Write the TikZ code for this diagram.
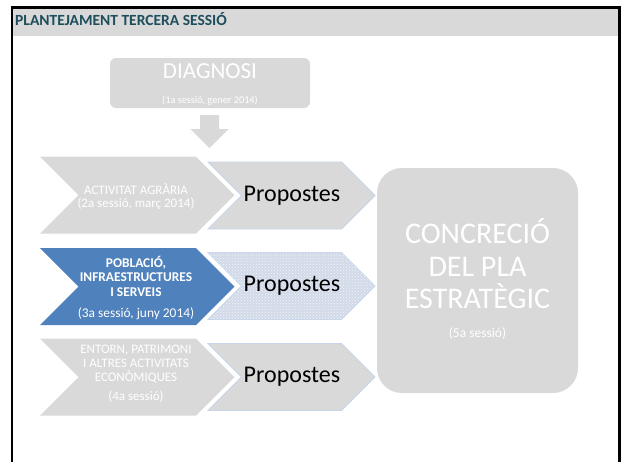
\documentclass[tikz,border=0pt]{standalone}
\usepackage{fontspec}
\setmainfont{Carlito}
\usepackage{xcolor}
\usetikzlibrary{patterns}

\definecolor{slidegray}{HTML}{D9D9D9}
\definecolor{titleteal}{HTML}{1D4E5C}
\definecolor{accblue}{HTML}{4F81BD}
\definecolor{edgeblue}{HTML}{C6D5EA}
\definecolor{dotblue}{HTML}{D2DAE9}

\begin{document}
\begin{tikzpicture}[x=1pt, y=-1pt,
  sbox/.style={fill=slidegray, text=white, align=center, inner sep=0pt},
  chev/.style={fill=slidegray},
  chevsel/.style={fill=accblue},
  prop/.style={fill=slidegray, draw=edgeblue, line width=0.8pt},
  propsel/.style={fill=dotblue, draw=edgeblue, line width=0.8pt},
  chevtext/.style={text=white, align=center, inner sep=0pt,
                   font=\fontsize{13}{12.8}\selectfont},
  proptext/.style={text=black, inner sep=0pt,
                   font=\fontsize{24}{24}\selectfont},
]
\useasboundingbox (0,0) rectangle (621,461);

%% Slide frame and title bar
\fill[slidegray] (12,8) rectangle (619,36);
\draw[line width=2.5pt] (12,462) -- (12,7.5) -- (619.5,7.5) -- (619.5,462);
\node[anchor=base west, inner sep=0pt, text=titleteal,
      font=\bfseries\fontsize{15.5}{15.5}\selectfont] (title) at (15,25.5)
  {PLANTEJAMENT TERCERA SESSIÓ};

%% Row 0 - Diagnosi
\node[sbox, rounded corners=6pt, minimum width=200pt, minimum height=50pt]
  (diag) at (210,83) {};
\node[text=white, inner sep=0pt, anchor=base,
      font=\fontsize{23}{23}\selectfont] (diagt) at (210,78) {DIAGNOSI};
\node[text=white, inner sep=0pt, anchor=base,
      font=\fontsize{10.3}{10.3}\selectfont] (diags) at (210,103)
  {(1a sessió, gener 2014)};

%% block arrow down to the first row
\coordinate (atop) at (209.5,115);
\fill[slidegray] (atop) ++(-9.5,0) -- ++(19,0) -- ++(0,14) -- ++(9.5,0)
  -- ++(-19,19) -- ++(-19,-19) -- ++(9.5,0) -- cycle;

%% Session chevrons (x = 40, half height 38.5, flat part 156)
\foreach \yc/\sty in {195/chev, 286.5/chevsel, 377/chev}
  \fill[\sty] (40,\yc-38.5) -- ++(156,0) -- ++(38.5,38.5) -- ++(-38.5,38.5)
    -- ++(-156,0) -- ++(38.5,-38.5) -- cycle;

\node[chevtext] (s2) at (136,196.5)
  {ACTIVITAT AGRÀRIA\\(2a sessió, març 2014)};
\node[chevtext, font=\fontsize{13.4}{14.5}\selectfont] (s3) at (136,288)
  {\textbf{POBLACIÓ,}\\\textbf{INFRAESTRUCTURES}\\\textbf{I SERVEIS}\\[7pt]%
   (3a sessió, juny 2014)};
\node[chevtext, font=\fontsize{13}{14}\selectfont] (s4) at (136,374)
  {ENTORN, PATRIMONI\\I ALTRES ACTIVITATS\\ECONÒMIQUES\\[5pt](4a sessió)};

%% Propostes chevrons (x = 208, half height 33.5, flat part 133.5)
\foreach \yc/\sty in {195.5/prop, 286/propsel, 377/prop}
  \filldraw[\sty] (208,\yc-33.5) -- ++(133.5,0) -- ++(33.5,33.5)
    -- ++(-33.5,33.5) -- ++(-133.5,0) -- ++(33.5,-33.5) -- cycle;
\fill[pattern=crosshatch dots, pattern color=white!70!dotblue]
  (208,252.5) -- ++(133.5,0) -- ++(33.5,33.5) -- ++(-33.5,33.5)
  -- ++(-133.5,0) -- ++(33.5,-33.5) -- cycle;

\node[proptext] (p2) at (292,195.5) {Propostes};
\node[proptext] (p3) at (292,286) {Propostes};
\node[proptext] (p4) at (292,377) {Propostes};

%% Final session
\node[sbox, rounded corners=25pt, minimum width=201pt, minimum height=225pt]
  (plan) at (477.5,280.5) {};
\node[text=white, inner sep=0pt, anchor=base,
      font=\fontsize{30}{30}\selectfont] (plant) at (477.5,243) {CONCRECIÓ};
\node[text=white, inner sep=0pt, anchor=base,
      font=\fontsize{30}{30}\selectfont] (plant2) at (477.5,276) {DEL PLA};
\node[text=white, inner sep=0pt, anchor=base,
      font=\fontsize{30}{30}\selectfont] (plant3) at (477.5,308) {ESTRATÈGIC};
\node[text=white, inner sep=0pt, anchor=base,
      font=\fontsize{13.5}{13.5}\selectfont] (plans) at (477.5,337) {(5a sessió)};

\end{tikzpicture}
\end{document}
